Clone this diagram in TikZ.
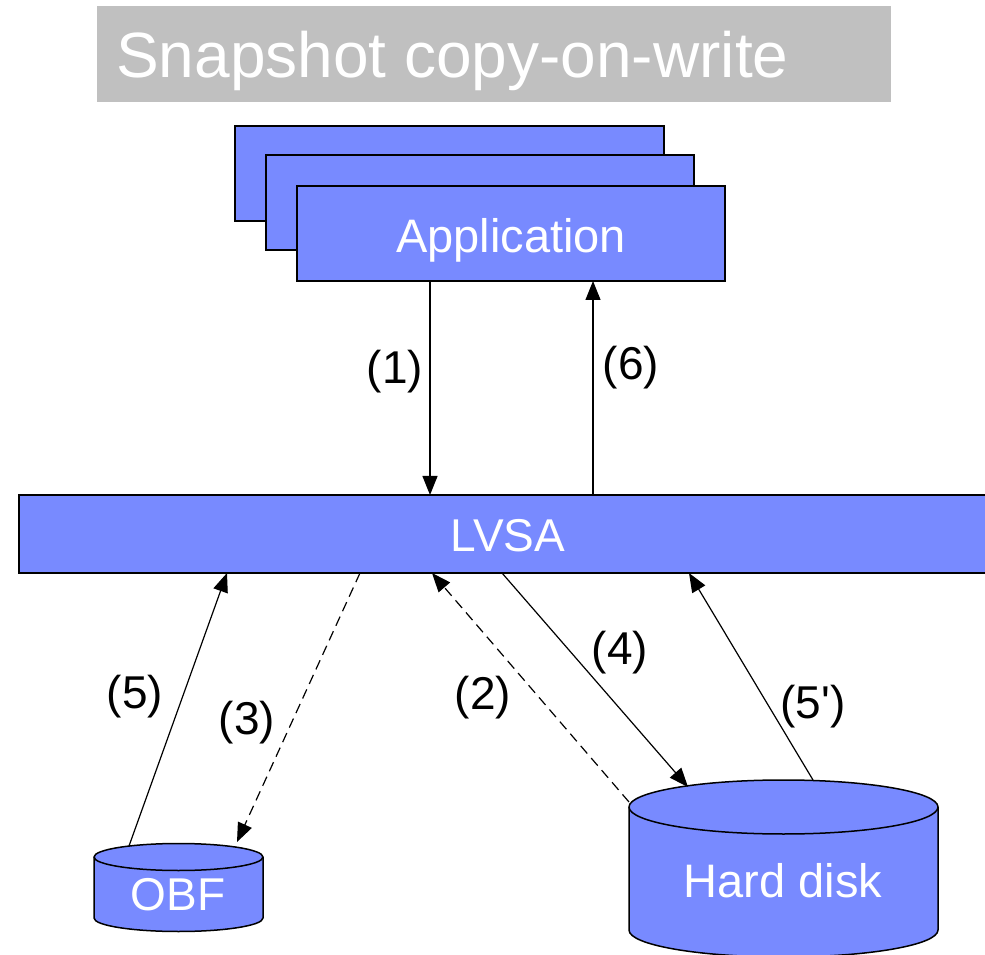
\documentclass[tikz,border=0pt]{standalone}
\usepackage{fontspec}
\setmainfont{Liberation Sans}[Ligatures=TeXOff]
\usetikzlibrary{arrows.meta}
\definecolor{boxblue}{RGB}{120,138,255}
\definecolor{titlegray}{RGB}{192,192,192}
\begin{document}
\begin{tikzpicture}[x=1pt,y=1pt,
  box/.style={draw=black, fill=boxblue, line width=1.5pt, inner sep=0pt, outer sep=0pt, anchor=south west},
  boxtext/.style={text=white, font=\fontsize{47pt}{50pt}\selectfont},
  lab/.style={text=black, font=\fontsize{46pt}{50pt}\selectfont, inner sep=0pt},
  arr/.style={line width=1.2pt, -{Triangle[length=19pt,width=15pt]}},
  dasharr/.style={arr, dash pattern=on 10pt off 6pt},
  cyl/.style={fill=boxblue, draw=black, line width=1.5pt}
]
\useasboundingbox (0,0) rectangle (985,954);

% title
\node[fill=titlegray, inner sep=0pt, outer sep=0pt, minimum width=794pt, minimum height=96pt, anchor=south west] (titlebox) at (97,852) {};
\node[anchor=base west, inner sep=0pt, text=white, font=\fontsize{64pt}{70pt}\selectfont] (title) at (116,876) {Snapshot copy-on-write};

% application stack
\node[box, minimum width=429pt, minimum height=95pt] (app3) at (235,733) {};
\node[box, minimum width=428pt, minimum height=95pt] (app2) at (266,704) {};
\node[box, minimum width=428pt, minimum height=95pt] (app) at (297,673) {};
\node[boxtext, anchor=base, inner sep=0pt] (apptext) at (511,701) {Application};

% LVSA bar
\node[box, minimum width=980pt, minimum height=78pt] (lvsa) at (19,381) {};
\node[boxtext, anchor=base, inner sep=0pt, font=\fontsize{46pt}{50pt}\selectfont] (lvsatext) at (508,402) {LVSA};

% OBF cylinder
\path[cyl] (94,97) -- (94,36) arc[start angle=180, end angle=360, x radius=84.5, y radius=13.5]
  -- (263,97) arc[start angle=0, end angle=180, x radius=84.5, y radius=13.5] -- cycle;
\draw[line width=1.5pt] (94,97) arc[start angle=180, end angle=360, x radius=84.5, y radius=13.5];
\node[boxtext, anchor=base, inner sep=0pt, font=\fontsize{46pt}{50pt}\selectfont] (obf) at (178,44) {OBF};

% Hard disk cylinder
\path[cyl] (629,147) -- (629,24) arc[start angle=180, end angle=360, x radius=154.5, y radius=27]
  -- (938,147) arc[start angle=0, end angle=180, x radius=154.5, y radius=27] -- cycle;
\draw[line width=1.5pt] (629,147) arc[start angle=180, end angle=360, x radius=154.5, y radius=27];
\node[boxtext, anchor=base, inner sep=0pt] (hd) at (783,57) {Hard disk};

% connection points
\coordinate (x1) at (430,0);
\coordinate (x6) at (593,0);
\coordinate (x5) at (227,0);
\coordinate (x3) at (360,0);
\coordinate (x2) at (432,0);
\coordinate (x4) at (502,0);
\coordinate (x5p) at (689,0);
\coordinate (obf5) at (129,108);
\coordinate (obf3) at (237,112);
\coordinate (hd2) at (629,152);
\coordinate (hd4) at (688,167);
\coordinate (hd5p) at (813,174);

% connectors
\draw[arr] (app.south -| x1) -- (lvsa.north -| x1);
\draw[arr] (lvsa.north -| x6) -- (app.south -| x6);
\draw[arr] (obf5) -- (lvsa.south -| x5);
\draw[dasharr] (lvsa.south -| x3) -- (obf3);
\draw[dasharr] (hd2) -- (lvsa.south -| x2);
\draw[arr] (lvsa.south -| x4) -- (hd4);
\draw[arr] (hd5p) -- (lvsa.south -| x5p);

% labels
\node[lab] (l1) at (395,582) {(1)};
\node[lab] (l6) at (631,586) {(6)};
\node[lab] (l5) at (135,257) {(5)};
\node[lab] (l3) at (247,231) {(3)};
\node[lab] (l2) at (483,256) {(2)};
\node[lab] (l4) at (620,301) {(4)};
\node[lab] (l5p) at (813,247) {(5')};
\end{tikzpicture}
\end{document}
